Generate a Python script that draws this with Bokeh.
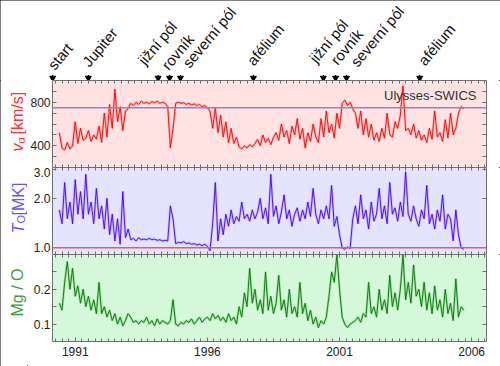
import numpy as np
from bokeh.plotting import figure
from bokeh.layouts import column, row
from bokeh.models import (Range1d, LinearAxis, LogAxis, FixedTicker, Span, Label,
                          ColumnDataSource, CustomJSTickFormatter, PrintfTickFormatter)
from bokeh.embed import file_html
from bokeh.resources import INLINE
from bokeh.core.properties import value

# ---------------- data ----------------
T_START = 1990.9   # first sample (decimal year)
T_STEP = 0.1       # sample spacing (years)

speed = [520, 380,
         360, 430, 370, 400, 620, 420, 560, 450, 470, 540,
         440, 500, 460, 580, 430, 700, 480, 780, 560, 920,
         620, 760, 540, 720, 740, 790, 770, 800, 780, 810,
         790, 800, 785, 805, 795, 810, 790, 800, 790, 760,
         380, 560, 790, 800, 790, 795, 780, 790, 775, 785,
         770, 780, 760, 770, 750, 720, 560, 750, 520, 680,
         480, 620, 430, 560, 420, 480, 390, 370, 400, 380,
         410, 390, 420, 460, 400, 500, 430, 470, 410, 480,
         520, 450, 600, 480, 540, 420, 580, 500, 650, 460,
         560, 380, 520, 440, 600, 480, 430, 650, 480, 720,
         520, 600, 470, 700, 560, 790, 820, 770, 800, 740,
         700, 560, 720, 500, 650, 480, 600, 450, 520, 440,
         560, 470, 700, 500, 480, 620, 560, 680, 950, 540,
         560, 500, 600, 470, 540, 450, 500, 430, 560, 460,
         720, 480, 520, 440, 640, 470, 700, 500, 560, 700,
         760, 740]

temp = [1.7, 1.4,
        2.5, 1.5, 1.9, 1.4, 2.6, 1.6, 2.2, 1.5, 2.8, 1.6,
        1.9, 1.4, 2.3, 1.5, 1.8, 1.3, 2.0, 1.2, 1.6, 1.1,
        1.5, 1.05, 2.2, 1.15, 1.3, 1.12, 1.14, 1.1, 1.15, 1.12,
        1.13, 1.12, 1.14, 1.12, 1.13, 1.11, 1.12, 1.10, 1.11, 1.10,
        1.8, 1.5, 1.06, 1.08, 1.07, 1.09, 1.06, 1.07, 1.05, 1.06,
        1.04, 1.05, 1.03, 1.05, 1.02, 0.96, 1.4, 2.5, 1.1, 1.5,
        1.2, 1.6, 1.35, 1.7, 1.4, 1.55, 1.45, 1.9, 1.5, 1.6,
        1.45, 1.7, 1.5, 1.65, 2.0, 1.5, 1.75, 1.4, 2.8, 1.55,
        1.8, 1.4, 1.65, 2.1, 1.5, 1.7, 1.35, 1.6, 1.75, 1.45,
        1.7, 1.5, 1.9, 1.55, 2.3, 1.6, 1.4, 1.7, 1.5, 1.8,
        1.5, 2.4, 1.35, 1.55, 1.2, 1.0, 0.98, 1.01, 0.99, 1.5,
        1.8, 1.4, 2.1, 1.5, 1.7, 1.3, 1.9, 1.45, 1.6, 2.3,
        1.5, 1.8, 1.4, 2.5, 1.6, 1.75, 1.45, 1.9, 1.55, 2.9,
        1.6, 1.45, 1.8, 1.5, 1.35, 1.7, 1.5, 2.4, 1.4, 1.6,
        1.3, 1.7, 1.45, 2.1, 1.3, 1.6, 1.5, 1.1, 1.7, 1.2,
        1.0, 0.98]

mg_o = [0.16, 0.14,
        0.22, 0.28, 0.2, 0.26, 0.18, 0.21, 0.16, 0.2, 0.15, 0.18,
        0.14, 0.17, 0.13, 0.22, 0.13, 0.15, 0.12, 0.14, 0.11, 0.13,
        0.1, 0.12, 0.095, 0.11, 0.13, 0.12, 0.105, 0.11, 0.1, 0.11,
        0.105, 0.12, 0.1, 0.11, 0.095, 0.115, 0.1, 0.11, 0.105, 0.1,
        0.11, 0.17, 0.1, 0.095, 0.105, 0.1, 0.11, 0.105, 0.115, 0.1,
        0.11, 0.12, 0.105, 0.115, 0.12, 0.11, 0.13, 0.115, 0.125, 0.11,
        0.12, 0.105, 0.13, 0.11, 0.12, 0.1, 0.15, 0.12, 0.19, 0.15,
        0.26, 0.16, 0.2, 0.14, 0.17, 0.13, 0.25, 0.14, 0.18, 0.13,
        0.16, 0.24, 0.14, 0.17, 0.12, 0.2, 0.13, 0.15, 0.12, 0.22,
        0.13, 0.16, 0.11, 0.14, 0.1, 0.12, 0.09, 0.11, 0.1, 0.12,
        0.18, 0.25, 0.22, 0.3, 0.2, 0.12, 0.1, 0.09, 0.1, 0.105,
        0.11, 0.12, 0.105, 0.13, 0.12, 0.22, 0.13, 0.15, 0.12, 0.2,
        0.14, 0.17, 0.13, 0.24, 0.15, 0.19, 0.14, 0.2, 0.3, 0.17,
        0.22, 0.16, 0.27, 0.18, 0.2, 0.15, 0.22, 0.14, 0.19, 0.13,
        0.21, 0.14, 0.17, 0.12, 0.2, 0.13, 0.16, 0.11, 0.23, 0.12,
        0.15, 0.14]

event_names = ["start", "Jupiter", "jižní pól", "rovník", "severní pól",
               "afélium", "jižní pól", "rovník", "severní pól", "afélium"]
event_times = [1990.76, 1992.1, 1994.72, 1995.15, 1995.56,
               1998.3, 2000.93, 2001.39, 2001.8, 2004.55]

year_labels = [1991, 1996, 2001, 2006]
speed_ref = 750
temp_ref = 1.0

# ---------------- layout / style ----------------
FONT = "Liberation Sans"
TOTAL_W = 500
STRIP_H = 80
LEFT_W = 27          # strip holding the rotated y titles
PANEL_W = TOTAL_W - LEFT_W
FRAME_L = 49         # frame left edge (page px)
BR = 14
PANEL_H = 87
BOTTOM_AX = 25
AX_COL = "#707070"
TICK_COL = "#222222"
X0, X1 = 1990.64, 2007.06
LABEL_ANGLE = np.deg2rad(50)

# event-label placement tweaks (screen px)
label_dx = [-2, -3, -17, -5, 5, -3.6, -11, -2, 7, 1.4]
label_dy = [-3, -6, -8, -3, -5, -7.4, -10, -8, -6, -7.4]


def sample_times(n):
    return T_START + T_STEP * np.arange(n)


x_range = Range1d(X0, X1)
px_per_year = (TOTAL_W - FRAME_L - BR) / (X1 - X0)
strip_range = Range1d(X0 - FRAME_L / px_per_year, X1 + BR / px_per_year)
minor_x = [float(v) for v in np.arange(1990.75, 2007.01, 0.25)]
major_x = [y + 0.5 for y in year_labels]
year_fmt = CustomJSTickFormatter(code="return String(Math.floor(tick))")


def style_axis(ax, ticks, minor, fmt=None, tick_in=4, minor_in=4):
    ax.ticker = FixedTicker(ticks=ticks, minor_ticks=minor)
    ax.axis_line_color = AX_COL
    ax.major_tick_line_color = AX_COL
    ax.minor_tick_line_color = AX_COL
    ax.major_tick_in = tick_in
    ax.major_tick_out = 0
    ax.minor_tick_in = minor_in
    ax.minor_tick_out = 0
    ax.major_label_standoff = 2
    if fmt is not None:
        ax.formatter = fmt
    ax.major_label_text_font = FONT
    ax.major_label_text_font_size = "12px"
    ax.major_label_text_color = TICK_COL


def make_panel(y_range, bg, yticks, yminor, yfmt, log=False, bottom_labels=False):
    h = PANEL_H + (BOTTOM_AX if bottom_labels else 0)
    p = figure(width=PANEL_W, height=h, x_range=x_range, y_range=y_range,
               y_axis_type="log" if log else "linear",
               x_axis_location=None, y_axis_location=None,
               output_backend="svg", toolbar_location=None,
               min_border_left=FRAME_L - LEFT_W, min_border_right=BR,
               min_border_top=0, min_border_bottom=BOTTOM_AX if bottom_labels else 0)
    p.background_fill_color = bg
    p.border_fill_color = "white"
    p.outline_line_color = None
    p.grid.visible = False
    AxisCls = LogAxis if log else LinearAxis
    left = AxisCls()
    style_axis(left, yticks, yminor, yfmt)
    p.add_layout(left, "left")
    right = AxisCls()
    style_axis(right, [], list(yticks) + list(yminor))
    p.add_layout(right, "right")
    top = LinearAxis()
    style_axis(top, [], minor_x, minor_in=3)
    p.add_layout(top, "above")
    bot = LinearAxis()
    if bottom_labels:
        style_axis(bot, major_x, minor_x, year_fmt, tick_in=4, minor_in=3)
        bot.major_label_standoff = 5
    else:
        style_axis(bot, [], minor_x, minor_in=3)
    p.add_layout(bot, "below")
    return p


# ---- event labels strip (y in page px, downward) ----
pl = figure(width=TOTAL_W, height=STRIP_H, x_range=strip_range, y_range=Range1d(STRIP_H, 0),
            x_axis_location=None, y_axis_location=None,
            output_backend="svg", toolbar_location=None,
            min_border_left=0, min_border_right=0, min_border_top=0, min_border_bottom=0)
pl.outline_line_color = None
pl.grid.visible = False
pl.background_fill_color = "white"
ev = ColumnDataSource(dict(x=event_times, name=event_names, dx=label_dx, dy=label_dy))
pl.text(x="x", y=70, text="name", source=ev, angle=LABEL_ANGLE,
        x_offset="dx", y_offset="dy",
        text_align="left", text_baseline="middle",
        text_font=value(FONT), text_font_size="15px", text_color="#111111")
pl.segment(x0="x", y0=74.5, x1="x", y1=79.8, source=ev, line_color="black", line_width=1.2)
pl.scatter(x="x", y=77.5, source=ev, marker="inverted_triangle", size=6,
           fill_color="black", line_color="black")

t_speed = sample_times(len(speed))
t_temp = sample_times(len(temp))
t_mg = sample_times(len(mg_o))

# ---- speed panel ----
pv = make_panel(Range1d(200, 1000), "#ffe3e3", [400, 800], [300, 500, 600, 700, 900],
                PrintfTickFormatter(format="%d"))
pv.line(t_speed, speed, line_color="#ff5050", line_width=2.5, line_alpha=0.3)
pv.line(t_speed, speed, line_color="#ff0000", line_width=1, line_alpha=0.9)
pv.add_layout(Span(location=speed_ref, dimension="width", line_color="#8a86c8", line_width=1.5))
pv.add_layout(Label(x=PANEL_W - (FRAME_L - LEFT_W) - BR - 13, y=72, x_units="screen", y_units="screen",
                    text="Ulysses-SWICS", text_align="right", text_baseline="middle",
                    text_font=FONT, text_font_size="13px", text_color="#333333"))

# ---- temperature panel ----
pt = make_panel(Range1d(0.91, 3.08), "#e4e4ff", [1.0, 2.0, 3.0], [],
                PrintfTickFormatter(format="%.1f"), log=True)
pt.line(t_temp, temp, line_color="#7a5cff", line_width=2.5, line_alpha=0.3)
pt.line(t_temp, temp, line_color="#4a00ff", line_width=1, line_alpha=0.9)
pt.add_layout(Span(location=temp_ref, dimension="width", line_color="#e06060", line_width=1.5))

# ---- Mg/O panel ----
pm = make_panel(Range1d(0.05, 0.30), "#d6f8da", [0.1, 0.2], [0.15, 0.25],
                PrintfTickFormatter(format="%.1f"), bottom_labels=True)
pm.line(t_mg, mg_o, line_color="#40a040", line_width=2.5, line_alpha=0.3)
pm.line(t_mg, mg_o, line_color="#007a00", line_width=1, line_alpha=0.9)

# ---- y titles strip (page px coordinates) ----
side_h = 3 * PANEL_H + BOTTOM_AX
ps = figure(width=LEFT_W, height=side_h, x_range=Range1d(0, LEFT_W),
            y_range=Range1d(STRIP_H + side_h, STRIP_H),
            x_axis_location=None, y_axis_location=None,
            output_backend="svg", toolbar_location=None,
            min_border_left=0, min_border_right=0, min_border_top=0, min_border_bottom=0)
ps.outline_line_color = None
ps.grid.visible = False
ps.background_fill_color = "white"
RED_T, BLUE_T, GREEN_T = "#ff3030", "#6a50ff", "#3c9a3c"
titles = [
    # text, x, y, size, style, color
    ("v", 17, 151, "16px", "italic", RED_T),
    ("α", 20.5, 143, "11px", "normal", RED_T),
    ("[km/s]", 17, 134, "16px", "normal", RED_T),
    ("T", 17.5, 233, "16px", "italic", BLUE_T),
    ("O", 20.5, 223, "11px", "normal", BLUE_T),
    ("[MK]", 17.5, 215, "16px", "normal", BLUE_T),
]
for txt, x, y, size, style, col in titles:
    ps.text(x=[x], y=[y], text=[txt], angle=np.pi / 2, text_align="left",
            text_baseline="middle", text_font=value(FONT), text_font_size=size,
            text_font_style=style, text_color=col)
ps.text(x=[17], y=[292], text=["Mg / O"], angle=np.pi / 2, text_align="center",
        text_baseline="middle", text_font=value(FONT), text_font_size="16px",
        text_color=GREEN_T)

layout = column(pl, row(ps, column(pv, pt, pm, spacing=0), spacing=0), spacing=0,
                styles={"outline": "1px solid black", "outline-offset": "-1px"})
open("out.html", "w").write(file_html(layout, INLINE))
